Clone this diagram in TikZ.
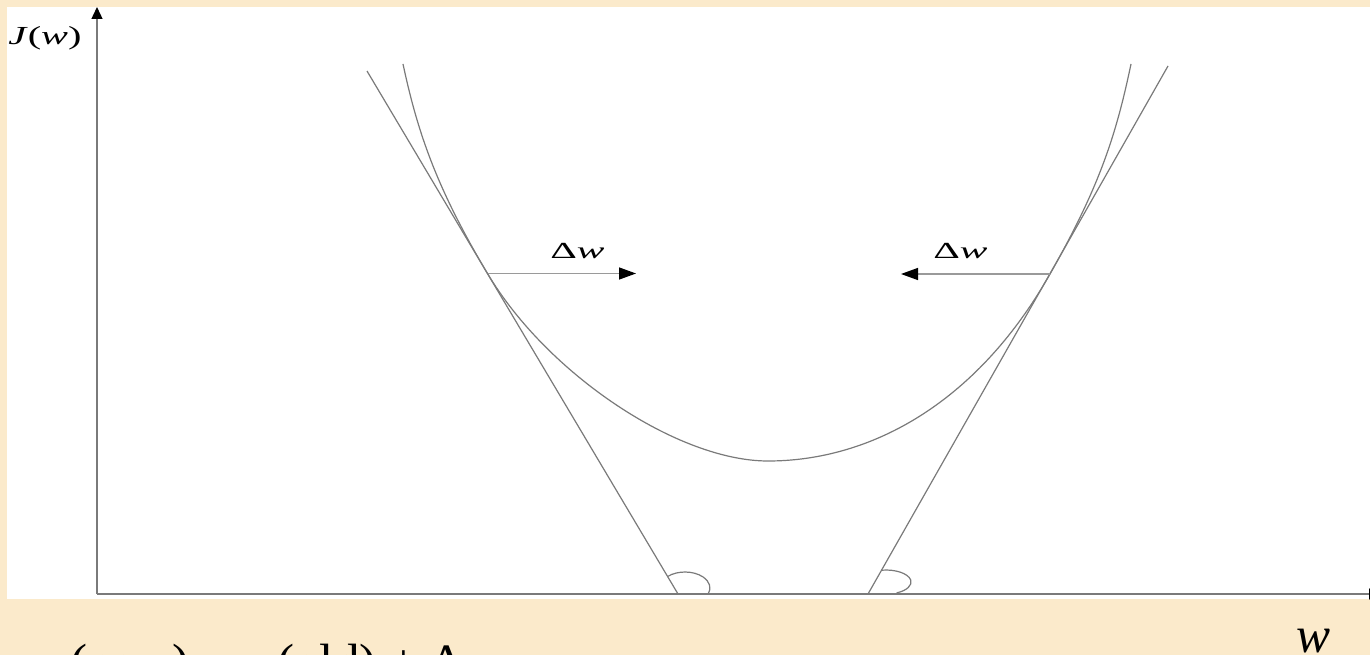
\documentclass[tikz,border=0pt]{standalone}
\usepackage{fontspec}
\setmainfont{Liberation Serif}
\usepackage{tikz}
\usetikzlibrary{arrows.meta}
\definecolor{parch}{HTML}{FBEACB}
\definecolor{ln}{HTML}{7A7A7A}
\definecolor{lnL}{HTML}{9A9A9A}
\tikzset{
  curve/.style  ={draw=ln, line width=1.2pt},
  axis/.style   ={draw=ln, line width=1.3pt,
                  -{Triangle[length=12pt,width=11pt,color=black,fill=black]}},
  dwarrow/.style={draw=lnL, line width=1.4pt,
                  -{Triangle[length=17pt,width=12pt,color=black,fill=black]}},
  lbl/.style    ={inner sep=0pt, anchor=base west, text=black},
  smallf/.style ={font=\fontsize{22}{26}\selectfont},
  bigf/.style   ={font=\fontsize{51}{60}\selectfont},
}

\begin{document}
\begin{tikzpicture}[x=1pt,y=-1pt]
  % slide background and picture panel
  \fill[parch] (0,0) rectangle (1370,655);
  \useasboundingbox (0,0) rectangle (1370,655);
  \clip (0,0) rectangle (1370,655);
  \fill[white] (7,7) rectangle (1370,599);
  % axes
  \coordinate (O) at (97,594);
  \coordinate (ytop) at (97,7);
  \coordinate (xend) at (1381,594);
  \draw[axis] (O) -- (ytop);
  \draw[axis] (O) -- (xend);
  \node[lbl, font=\fontsize{26}{30}\selectfont, xscale=1.55] (Jw) at (8,45) {\textit{J}(\textit{w})};
  % tangent lines
  \coordinate (La) at (367,71);  \coordinate (Lb) at (678,594);
  \coordinate (Ra) at (1168,66); \coordinate (Rb) at (868,594);
  \draw[curve] (La) -- (Lb);
  \draw[curve] (Ra) -- (Rb);
  % cost curve, touching both lines
  \coordinate (tL) at (487.5,273.5);
  \coordinate (tR) at (1050,274);
  \coordinate (wmin) at (768,461);
  \draw[curve] (403,64) .. controls (417.7,133) and (437,189) .. (tL)
     .. controls (547.5,374.3) and (678,461) .. (wmin)
     .. controls (868,461) and (975,406) .. (tR)
     .. controls (1100,186) and (1116.3,134) .. (1131,64);
  % angle marks at the axis
  \coordinate (aL) at (667.6,576.5);
  \coordinate (aR) at (881.7,570.2);
  \draw[curve] (aL) arc[start angle=134, end angle=-22, x radius=25pt, y radius=16pt];
  \draw[curve] (aR) arc[start angle=100, end angle=-65, x radius=25pt, y radius=12pt];
  % weight steps
  \coordinate (hL) at (636,273.5);
  \coordinate (hR) at (901,274);
  \draw[dwarrow] (tL) -- (hL);
  \draw[dwarrow] (tR) -- (hR);
  \node[lbl, font=\fontsize{23}{27}\selectfont, xscale=1.8] (dwL) at (550,258) {Δ\textit{w}};
  \node[lbl, font=\fontsize{23}{27}\selectfont, xscale=1.8] (dwR) at (933,258) {Δ\textit{w}};
  % slide text
  \node[lbl, bigf] (wax) at (1296,652) {\textit{w}};
  \node[lbl, bigf] (rule) at (36,679) {\textit{w}(new) = \textit{w}(old) + Δ\textit{w}};
\end{tikzpicture}
\end{document}
